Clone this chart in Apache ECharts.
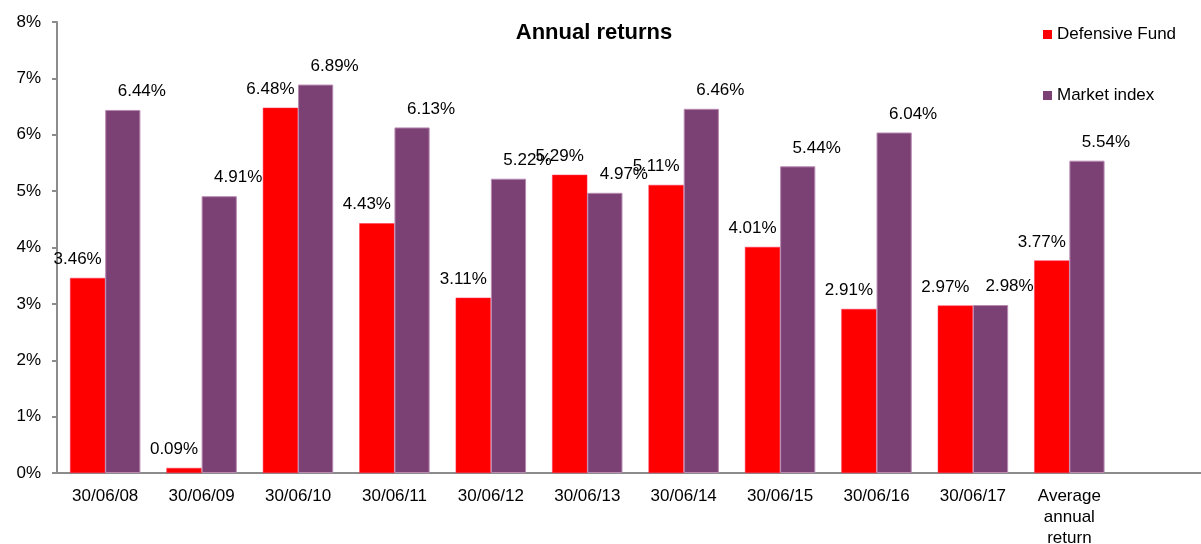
<!DOCTYPE html>
<html>
<head>
<meta charset="utf-8">
<script src="https://cdn.jsdelivr.net/npm/echarts@6/dist/echarts.min.js"></script>
<style>html,body{margin:0;padding:0;background:#fff;}#c{width:1201px;height:544px;}</style>
</head>
<body>
<div id="c"></div>
<script>
var categories = ['30/06/08','30/06/09','30/06/10','30/06/11','30/06/12','30/06/13','30/06/14','30/06/15','30/06/16','30/06/17','Average\nannual\nreturn',''];
var defensiveFund = [3.46, 0.09, 6.48, 4.43, 3.11, 5.29, 5.11, 4.01, 2.91, 2.97, 3.77];
var marketIndex = [6.44, 4.91, 6.89, 6.13, 5.22, 4.97, 6.46, 5.44, 6.04, 2.98, 5.54];
var yTicks = [0,1,2,3,4,5,6,7,8];

var chart = echarts.init(document.getElementById('c'));
var font = 'Liberation Sans, Arial, sans-serif';
chart.setOption({
  animation: false,
  textStyle: {fontFamily: font},
  title: {
    text: 'Annual returns', left: 589, top: 17, textAlign: 'center',
    textStyle: {fontFamily: font, fontSize: 22, fontWeight: 'bold', color: '#000'}
  },
  legend: {
    orient: 'vertical', left: 1038, top: 21, itemWidth: 9, itemHeight: 9, itemGap: 44,
    icon: 'rect',
    itemStyle: {borderWidth: 0},
    textStyle: {fontFamily: font, fontSize: 17, color: '#000'},
    data: ['Defensive Fund','Market index']
  },
  grid: {left: 57, right: -13, top: 22, bottom: 71, containLabel: false, outerBoundsMode: 'none'},
  xAxis: {
    type: 'category', data: categories,
    axisLine: {lineStyle: {color: '#8c8c8c', width: 2}},
    axisTick: {show: false},
    axisLabel: {color: '#000', fontSize: 17, fontFamily: font, margin: 13, lineHeight: 21, interval: 0}
  },
  yAxis: {
    type: 'value', min: yTicks[0], max: yTicks[yTicks.length-1], interval: 1,
    splitLine: {show: false},
    axisLine: {show: true, lineStyle: {color: '#8c8c8c', width: 2}},
    axisTick: {show: true, length: 5, lineStyle: {color: '#8c8c8c', width: 2}},
    axisLabel: {color: '#000', fontSize: 17, fontFamily: font, margin: 16, formatter: '{value}%'}
  },
  series: [
    {
      name: 'Defensive Fund', type: 'bar', data: defensiveFund,
      barGap: '0%', barCategoryGap: '27%',
      itemStyle: {color: '#ff0000', borderColor: '#ff3355', borderWidth: 0.5},
      label: {show: true, position: 'top', distance: 10, offset: [-10, 0], color: '#000', fontSize: 17, fontFamily: font,
        formatter: function(p){return p.value.toFixed(2) + '%';}}
    },
    {
      name: 'Market index', type: 'bar', data: marketIndex,
      barGap: '0%', barCategoryGap: '27%',
      itemStyle: {color: '#7b4174', borderColor: '#b88ab2', borderWidth: 1},
      label: {show: true, position: 'top', distance: 10, offset: [19, 0], color: '#000', fontSize: 17, fontFamily: font,
        formatter: function(p){return p.value.toFixed(2) + '%';}}
    }
  ]
});
</script>
</body>
</html>
